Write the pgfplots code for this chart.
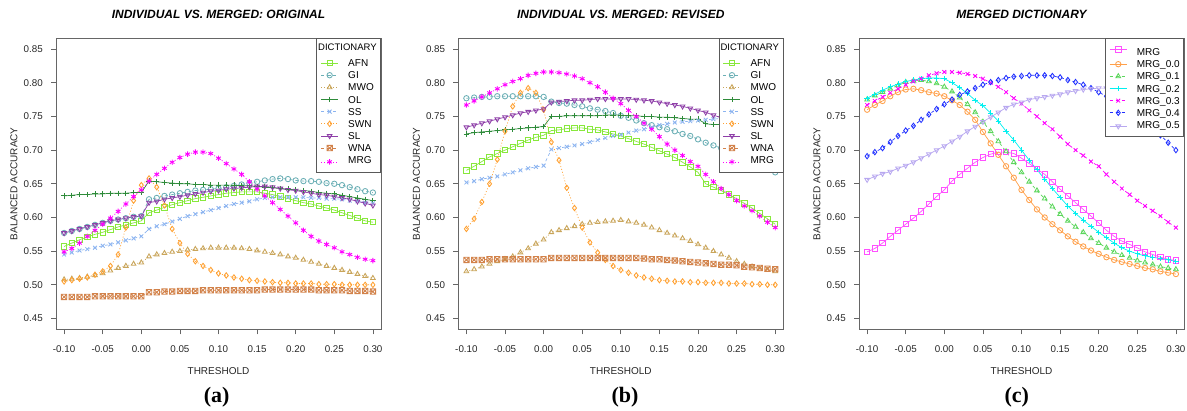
\documentclass[border=0pt]{standalone}
\usepackage{pgfplots}
\usepackage{pgfplotstable}
\pgfplotsset{compat=1.18}
\usepackage{fontspec}
\setmainfont{Liberation Sans}
\newfontfamily\capfont{Liberation Serif}

% R pch 7: square with a cross
\pgfdeclareplotmark{boxx}{%
  \pgfpathrectangle{\pgfpoint{-\pgfplotmarksize}{-\pgfplotmarksize}}{\pgfpoint{2\pgfplotmarksize}{2\pgfplotmarksize}}%
  \pgfpathmoveto{\pgfpoint{-\pgfplotmarksize}{-\pgfplotmarksize}}\pgfpathlineto{\pgfpoint{\pgfplotmarksize}{\pgfplotmarksize}}%
  \pgfpathmoveto{\pgfpoint{-\pgfplotmarksize}{\pgfplotmarksize}}\pgfpathlineto{\pgfpoint{\pgfplotmarksize}{-\pgfplotmarksize}}%
  \pgfusepathqstroke}

\definecolor{cAFN}{HTML}{88E83C}
\definecolor{cGI}{HTML}{6BAFB5}
\definecolor{cMWO}{HTML}{C9A55A}
\definecolor{cOL}{HTML}{2E8B3A}
\definecolor{cSS}{HTML}{8CB4F0}
\definecolor{cSWN}{HTML}{FFA030}
\definecolor{cSL}{HTML}{8E3FA8}
\definecolor{cWNA}{HTML}{D2824A}
\definecolor{cMRG}{HTML}{FF00FF}
\definecolor{cM}{HTML}{FF50FF}
\definecolor{cMa}{HTML}{FFA04A}
\definecolor{cMb}{HTML}{5CD65C}
\definecolor{cMc}{HTML}{00F0F0}
\definecolor{cMd}{HTML}{FF00FF}
\definecolor{cMe}{HTML}{2030FF}
\definecolor{cMf}{HTML}{B8A8F0}

\pgfplotstableread{
x AFN GI MWO OL SS SWN SL WNA MRG
-0.10 0.557 0.577 0.508 0.632 0.545 0.505 0.577 0.482 0.549
-0.09 0.562 0.580 0.509 0.633 0.548 0.507 0.580 0.482 0.554
-0.08 0.567 0.583 0.510 0.634 0.551 0.509 0.583 0.482 0.562
-0.07 0.571 0.586 0.512 0.634 0.553 0.511 0.586 0.482 0.572
-0.06 0.575 0.589 0.514 0.635 0.555 0.515 0.589 0.483 0.581
-0.05 0.578 0.592 0.517 0.635 0.558 0.520 0.592 0.483 0.590
-0.04 0.582 0.595 0.521 0.636 0.560 0.528 0.595 0.483 0.599
-0.03 0.586 0.597 0.525 0.636 0.563 0.545 0.597 0.483 0.609
-0.02 0.589 0.599 0.528 0.636 0.566 0.585 0.599 0.483 0.620
-0.01 0.592 0.601 0.531 0.637 0.569 0.625 0.601 0.483 0.631
0.00 0.595 0.602 0.533 0.637 0.572 0.648 0.602 0.483 0.641
0.01 0.607 0.627 0.542 0.654 0.583 0.658 0.622 0.489 0.654
0.02 0.611 0.629 0.545 0.653 0.587 0.645 0.624 0.489 0.664
0.03 0.615 0.632 0.547 0.652 0.590 0.618 0.627 0.490 0.673
0.04 0.619 0.634 0.549 0.651 0.594 0.583 0.629 0.490 0.682
0.05 0.622 0.636 0.550 0.650 0.598 0.562 0.631 0.491 0.689
0.06 0.625 0.638 0.552 0.650 0.602 0.546 0.633 0.491 0.694
0.07 0.628 0.640 0.553 0.649 0.605 0.535 0.635 0.491 0.697
0.08 0.630 0.641 0.554 0.649 0.608 0.528 0.637 0.492 0.697
0.09 0.632 0.642 0.555 0.648 0.611 0.522 0.639 0.492 0.695
0.10 0.634 0.643 0.555 0.648 0.614 0.517 0.640 0.492 0.688
0.11 0.636 0.645 0.555 0.648 0.617 0.514 0.642 0.492 0.680
0.12 0.637 0.647 0.555 0.648 0.620 0.511 0.643 0.492 0.672
0.13 0.638 0.649 0.554 0.647 0.622 0.509 0.644 0.492 0.664
0.14 0.638 0.651 0.553 0.647 0.624 0.507 0.645 0.492 0.653
0.15 0.638 0.653 0.551 0.646 0.627 0.506 0.646 0.492 0.642
0.16 0.636 0.655 0.549 0.645 0.629 0.505 0.646 0.493 0.632
0.17 0.634 0.657 0.547 0.644 0.630 0.504 0.645 0.493 0.622
0.18 0.631 0.658 0.545 0.643 0.630 0.503 0.643 0.493 0.612
0.19 0.628 0.657 0.542 0.642 0.630 0.503 0.641 0.493 0.602
0.20 0.625 0.655 0.540 0.641 0.630 0.502 0.640 0.493 0.592
0.21 0.622 0.654 0.537 0.640 0.630 0.502 0.638 0.493 0.581
0.22 0.620 0.654 0.534 0.639 0.629 0.502 0.636 0.493 0.572
0.23 0.617 0.653 0.531 0.637 0.629 0.501 0.634 0.492 0.565
0.24 0.614 0.651 0.528 0.636 0.628 0.501 0.633 0.492 0.560
0.25 0.611 0.650 0.525 0.635 0.628 0.501 0.631 0.492 0.555
0.26 0.607 0.648 0.522 0.633 0.627 0.500 0.629 0.492 0.549
0.27 0.603 0.645 0.519 0.631 0.625 0.500 0.627 0.491 0.545
0.28 0.599 0.642 0.516 0.629 0.624 0.500 0.624 0.491 0.541
0.29 0.595 0.639 0.513 0.627 0.622 0.500 0.621 0.491 0.538
0.30 0.593 0.637 0.510 0.625 0.621 0.500 0.618 0.490 0.536
}\tblA

\pgfplotstableread{
x AFN GI MWO OL SS SWN SL WNA MRG
-0.10 0.670 0.777 0.520 0.724 0.652 0.583 0.734 0.537 0.767
-0.09 0.676 0.778 0.523 0.726 0.654 0.598 0.737 0.537 0.773
-0.08 0.683 0.779 0.527 0.727 0.657 0.623 0.740 0.537 0.779
-0.07 0.690 0.779 0.531 0.728 0.659 0.650 0.743 0.538 0.785
-0.06 0.695 0.780 0.535 0.729 0.661 0.686 0.746 0.538 0.791
-0.05 0.700 0.780 0.538 0.730 0.664 0.728 0.749 0.538 0.797
-0.04 0.705 0.780 0.542 0.731 0.667 0.765 0.752 0.538 0.802
-0.03 0.710 0.780 0.548 0.732 0.670 0.785 0.755 0.538 0.806
-0.02 0.715 0.780 0.554 0.733 0.673 0.792 0.757 0.538 0.811
-0.01 0.719 0.780 0.561 0.734 0.675 0.785 0.759 0.538 0.814
0.00 0.722 0.779 0.567 0.735 0.677 0.760 0.761 0.538 0.816
0.01 0.729 0.772 0.578 0.750 0.701 0.712 0.771 0.540 0.816
0.02 0.730 0.770 0.581 0.750 0.703 0.685 0.772 0.540 0.815
0.03 0.732 0.769 0.584 0.751 0.705 0.644 0.773 0.540 0.813
0.04 0.733 0.767 0.587 0.751 0.707 0.614 0.774 0.540 0.810
0.05 0.733 0.765 0.590 0.751 0.709 0.585 0.774 0.540 0.806
0.06 0.731 0.762 0.592 0.751 0.712 0.563 0.775 0.540 0.800
0.07 0.730 0.760 0.593 0.751 0.715 0.548 0.776 0.540 0.794
0.08 0.727 0.758 0.594 0.752 0.718 0.537 0.776 0.540 0.786
0.09 0.724 0.755 0.595 0.752 0.721 0.528 0.776 0.540 0.777
0.10 0.721 0.751 0.596 0.752 0.723 0.522 0.776 0.540 0.769
0.11 0.717 0.748 0.594 0.751 0.726 0.518 0.776 0.540 0.759
0.12 0.713 0.744 0.592 0.751 0.729 0.514 0.775 0.540 0.750
0.13 0.709 0.740 0.589 0.750 0.731 0.511 0.774 0.539 0.740
0.14 0.704 0.737 0.585 0.750 0.734 0.509 0.773 0.538 0.731
0.15 0.699 0.734 0.581 0.749 0.737 0.507 0.771 0.538 0.720
0.16 0.694 0.731 0.577 0.749 0.739 0.506 0.769 0.537 0.709
0.17 0.689 0.728 0.573 0.748 0.741 0.505 0.767 0.536 0.700
0.18 0.682 0.724 0.569 0.747 0.742 0.505 0.765 0.535 0.692
0.19 0.675 0.721 0.565 0.746 0.743 0.504 0.762 0.534 0.683
0.20 0.667 0.716 0.560 0.746 0.744 0.504 0.759 0.533 0.676
0.21 0.650 0.711 0.555 0.739 0.745 0.503 0.756 0.532 0.664
0.22 0.645 0.707 0.550 0.738 0.746 0.503 0.752 0.531 0.653
0.23 0.640 0.703 0.545 0.738 0.747 0.503 0.748 0.530 0.643
0.24 0.634 0.699 0.540 0.737 0.748 0.502 0.745 0.530 0.634
0.25 0.628 0.695 0.535 0.737 0.749 0.502 0.742 0.529 0.625
0.26 0.621 0.690 0.531 0.736 0.750 0.502 0.739 0.527 0.617
0.27 0.614 0.684 0.527 0.735 0.750 0.501 0.736 0.526 0.610
0.28 0.606 0.677 0.524 0.734 0.751 0.501 0.733 0.525 0.602
0.29 0.598 0.671 0.522 0.733 0.751 0.500 0.730 0.524 0.593
0.30 0.590 0.667 0.520 0.732 0.752 0.500 0.727 0.523 0.585
}\tblB

\pgfplotstableread{
x m m0 m1 m2 m3 m4 m5
-0.10 0.549 0.760 0.775 0.777 0.767 0.691 0.656
-0.09 0.554 0.767 0.781 0.783 0.773 0.697 0.661
-0.08 0.562 0.773 0.786 0.789 0.779 0.703 0.665
-0.07 0.572 0.780 0.791 0.794 0.785 0.712 0.668
-0.06 0.581 0.786 0.796 0.798 0.791 0.721 0.673
-0.05 0.590 0.790 0.801 0.802 0.797 0.729 0.677
-0.04 0.599 0.791 0.803 0.804 0.802 0.736 0.682
-0.03 0.609 0.789 0.804 0.806 0.806 0.745 0.688
-0.02 0.620 0.786 0.802 0.807 0.811 0.753 0.694
-0.01 0.631 0.784 0.799 0.807 0.814 0.761 0.700
0.00 0.641 0.780 0.794 0.806 0.816 0.768 0.706
0.01 0.654 0.774 0.787 0.800 0.816 0.775 0.713
0.02 0.664 0.767 0.778 0.793 0.815 0.782 0.720
0.03 0.673 0.757 0.768 0.784 0.813 0.787 0.728
0.04 0.682 0.745 0.756 0.774 0.810 0.792 0.735
0.05 0.689 0.727 0.742 0.766 0.806 0.797 0.742
0.06 0.694 0.710 0.728 0.755 0.800 0.801 0.749
0.07 0.697 0.693 0.713 0.743 0.794 0.804 0.756
0.08 0.697 0.676 0.698 0.728 0.786 0.807 0.763
0.09 0.695 0.659 0.682 0.715 0.777 0.809 0.768
0.10 0.688 0.641 0.667 0.700 0.769 0.810 0.771
0.11 0.680 0.626 0.653 0.685 0.759 0.811 0.775
0.12 0.672 0.612 0.640 0.671 0.750 0.811 0.777
0.13 0.664 0.600 0.628 0.657 0.740 0.811 0.779
0.14 0.653 0.590 0.616 0.643 0.731 0.810 0.781
0.15 0.642 0.581 0.605 0.630 0.720 0.808 0.783
0.16 0.632 0.572 0.595 0.617 0.709 0.804 0.786
0.17 0.622 0.564 0.586 0.606 0.700 0.801 0.788
0.18 0.612 0.557 0.578 0.596 0.692 0.797 0.790
0.19 0.602 0.551 0.569 0.587 0.683 0.792 0.791
0.20 0.592 0.546 0.562 0.578 0.676 0.786 0.792
0.21 0.581 0.541 0.555 0.570 0.664 0.780 0.792
0.22 0.572 0.537 0.549 0.562 0.653 0.774 0.792
0.23 0.565 0.534 0.544 0.555 0.643 0.767 0.791
0.24 0.560 0.531 0.540 0.550 0.634 0.760 0.791
0.25 0.555 0.528 0.536 0.546 0.625 0.751 0.790
0.26 0.549 0.525 0.533 0.543 0.617 0.742 0.790
0.27 0.545 0.523 0.530 0.541 0.610 0.732 0.789
0.28 0.541 0.520 0.527 0.539 0.602 0.722 0.788
0.29 0.538 0.518 0.525 0.537 0.593 0.711 0.787
0.30 0.536 0.516 0.523 0.535 0.585 0.700 0.786
}\tblC

\pgfplotsset{
  panel/.style={
    scale only axis, width=325pt, height=291pt, anchor=south west,
    xmin=-0.1105, xmax=0.3105, ymin=0.434, ymax=0.866,
    xtick={-0.1,-0.05,0,0.05,0.1,0.15,0.2,0.25,0.3},
    ytick={0.45,0.5,0.55,0.6,0.65,0.7,0.75,0.8,0.85},
    tick align=outside, tick pos=left, major tick length=5pt,
    axis line style={black!60, line width=0.7pt},
    every tick/.style={black!60, line width=0.7pt},
    ticklabel style={font=\fontsize{9.8}{11}\selectfont, text=black!85, inner sep=0pt,
      /pgf/number format/fixed, /pgf/number format/fixed zerofill,
      /pgf/number format/precision=2, /pgf/number format/assume math mode=true},
    xticklabel style={anchor=north, yshift=-10.7pt},
    yticklabel style={anchor=east, xshift=-8pt},
    xlabel=THRESHOLD, ylabel=BALANCED ACCURACY,
    label style={font=\fontsize{10}{12}\selectfont, text=black!85},
    xlabel style={at={(axis description cs:0.5,-0.1433)}, anchor=center},
    ylabel style={at={(axis description cs:-0.1292,0.5)}, anchor=center},
    title style={at={(axis description cs:0.5,1.062)}, anchor=center,
      font=\fontsize{12}{14}\selectfont\bfseries\itshape},
    legend cell align=left,
    legend style={at={(1,1)}, anchor=north east, draw=black!65, line width=0.7pt,
      fill=white, font=\fontsize{10}{12}\selectfont, inner xsep=4pt, inner ysep=4.8pt,
      row sep=4.95pt, column sep=9.7pt,
      nodes={inner sep=0pt, text height=7.2pt, text depth=0pt}},
  },
  ser/.style={line width=0.7pt, mark size=2.7pt},
  lsolid/.style={solid},
  ldash/.style={dash pattern=on 3pt off 3pt},
  ldot/.style={dash pattern=on 1pt off 2pt},
  mk/.style={mark=#1, mark options={solid, line width=0.85pt}},
  mkdown/.style={mark=triangle, mark options={solid, line width=0.85pt, rotate=180}},
  sAFN/.style={ser, color=cAFN, lsolid, mk=square},
  sGI/.style={ser, color=cGI, ldash, mk=o},
  sMWO/.style={ser, color=cMWO, ldot, mk=triangle},
  sOL/.style={ser, color=cOL, lsolid, mk=+},
  sSS/.style={ser, color=cSS, ldash, mk=x},
  sSWN/.style={ser, color=cSWN, ldot, mk=diamond},
  sSL/.style={ser, color=cSL, lsolid, mkdown},
  sWNA/.style={ser, color=cWNA, ldash, mk=boxx},
  sMRG/.style={ser, color=cMRG, ldot, mk=asterisk},
}
\newcommand{\dictitle}{\hspace*{-30pt}{\fontsize{9.5}{11}\selectfont DICTIONARY}}

\begin{document}
\begin{tikzpicture}
\path[use as bounding box] (0pt,0pt) rectangle (1187pt,410pt);

% (a)
\begin{axis}[panel, at={(56pt,80.7pt)}, title={INDIVIDUAL VS. MERGED: ORIGINAL}]
\addlegendimage{legend image code/.code={}}
\addlegendentry[text depth=3.85pt]{\dictitle}
\addplot[sAFN] table[x=x, y=AFN] {\tblA}; \addlegendentry{AFN}
\addplot[sGI] table[x=x, y=GI] {\tblA}; \addlegendentry{GI}
\addplot[sMWO] table[x=x, y=MWO] {\tblA}; \addlegendentry{MWO}
\addplot[sOL] table[x=x, y=OL] {\tblA}; \addlegendentry{OL}
\addplot[sSS] table[x=x, y=SS] {\tblA}; \addlegendentry{SS}
\addplot[sSWN] table[x=x, y=SWN] {\tblA}; \addlegendentry{SWN}
\addplot[sSL] table[x=x, y=SL] {\tblA}; \addlegendentry{SL}
\addplot[sWNA] table[x=x, y=WNA] {\tblA}; \addlegendentry{WNA}
\addplot[sMRG] table[x=x, y=MRG] {\tblA}; \addlegendentry[text depth=3.3pt]{MRG}
\end{axis}

% (b)
\begin{axis}[panel, at={(458.3pt,80.7pt)}, title={INDIVIDUAL VS. MERGED: REVISED}]
\addlegendimage{legend image code/.code={}}
\addlegendentry[text depth=3.85pt]{\dictitle}
\addplot[sAFN] table[x=x, y=AFN] {\tblB}; \addlegendentry{AFN}
\addplot[sGI] table[x=x, y=GI] {\tblB}; \addlegendentry{GI}
\addplot[sMWO] table[x=x, y=MWO] {\tblB}; \addlegendentry{MWO}
\addplot[sOL] table[x=x, y=OL] {\tblB}; \addlegendentry{OL}
\addplot[sSS] table[x=x, y=SS] {\tblB}; \addlegendentry{SS}
\addplot[sSWN] table[x=x, y=SWN] {\tblB}; \addlegendentry{SWN}
\addplot[sSL] table[x=x, y=SL] {\tblB}; \addlegendentry{SL}
\addplot[sWNA] table[x=x, y=WNA] {\tblB}; \addlegendentry{WNA}
\addplot[sMRG] table[x=x, y=MRG] {\tblB}; \addlegendentry[text depth=3.3pt]{MRG}
\end{axis}

% (c)
\begin{axis}[panel, at={(859pt,80.7pt)}, title={MERGED DICTIONARY}]
\addplot[ser, color=cM, lsolid, mk=square] table[x=x, y=m] {\tblC}; \addlegendentry[text height=12.2pt]{MRG}
\addplot[ser, color=cMa, lsolid, mk=o] table[x=x, y=m0] {\tblC}; \addlegendentry{MRG\_0.0}
\addplot[ser, color=cMb, ldash, mk=triangle] table[x=x, y=m1] {\tblC}; \addlegendentry{MRG\_0.1}
\addplot[ser, color=cMc, lsolid, mk=+] table[x=x, y=m2] {\tblC}; \addlegendentry{MRG\_0.2}
\addplot[ser, color=cMd, ldash, mk=x] table[x=x, y=m3] {\tblC}; \addlegendentry{MRG\_0.3}
\addplot[ser, color=cMe, ldash, mk=diamond] table[x=x, y=m4] {\tblC}; \addlegendentry{MRG\_0.4}
\addplot[ser, color=cMf, lsolid, mkdown] table[x=x, y=m5] {\tblC}; \addlegendentry[text depth=2.6pt]{MRG\_0.5}
\end{axis}

\node[font={\capfont\bfseries\fontsize{22}{24}\selectfont}] at (216.7pt,13pt) {(a)};
\node[font={\capfont\bfseries\fontsize{22}{24}\selectfont}] at (625pt,13pt) {(b)};
\node[font={\capfont\bfseries\fontsize{22}{24}\selectfont}] at (1016.7pt,13pt) {(c)};
\end{tikzpicture}
\end{document}
